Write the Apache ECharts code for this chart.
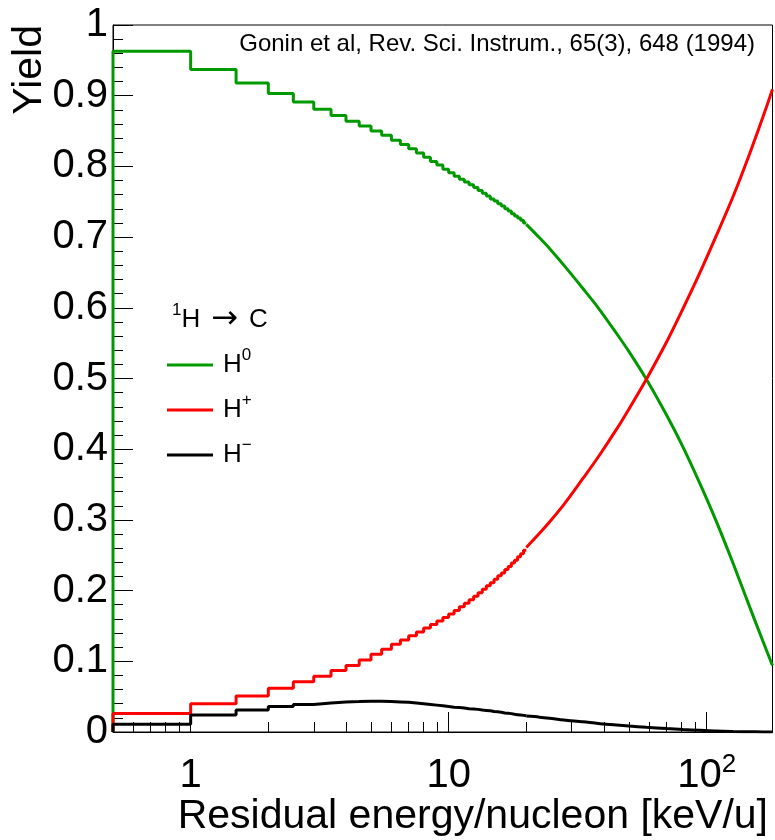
<!DOCTYPE html>
<html><head><meta charset="utf-8">
<script src="https://cdn.jsdelivr.net/npm/echarts@6/dist/echarts.min.js"></script>
<style>html,body{margin:0;padding:0;background:#fff}#c{width:775px;height:840px}</style>
</head><body><div id="c"></div>
<script>
// Histogram bins (low edges, keV/u), bin width 0.5
const binLow = [0.5,1,1.5,2,2.5,3,3.5,4,4.5,5,5.5,6,6.5,7,7.5,8,8.5,9,9.5,10,10.5,11,11.5,12,12.5,13,13.5,14,14.5,15,15.5,16,16.5,17,17.5,18,18.5,19,19.5];
const binWidth = 0.5;
const h0Bins = [0.963,0.937,0.918,0.903,0.891,0.881,0.872,0.864,0.857,0.850,
  0.844,0.837,0.831,0.825,0.819,0.813,0.807,0.802,0.796,0.791,
  0.786,0.782,0.778,0.774,0.770,0.766,0.762,0.758,0.754,0.751,
  0.747,0.744,0.740,0.737,0.733,0.730,0.727,0.724,0.720];
const hPlusBins = [0.026,0.040,0.051,0.062,0.071,0.079,0.087,0.094,0.102,0.110,
  0.117,0.124,0.130,0.136,0.1415,0.147,0.152,0.157,0.162,0.167,
  0.172,0.177,0.182,0.187,0.192,0.197,0.202,0.207,0.211,0.216,
  0.221,0.225,0.230,0.234,0.239,0.243,0.248,0.252,0.257];
const hMinusBins = [0.011,0.024,0.031,0.036,0.039,0.041,0.0425,0.043,0.0435,0.0435,
  0.043,0.0425,0.042,0.041,0.040,0.039,0.038,0.037,0.036,0.035,
  0.0345,0.034,0.033,0.0325,0.032,0.031,0.0305,0.030,0.029,0.0285,
  0.028,0.027,0.0265,0.026,0.025,0.0245,0.024,0.0235,0.023];
// High-energy part (fine bins look continuous)
const tailEnergy = [20,22.5,24.6,28,33.2,38,44.7,50,58.4,70,81,94,109,126.5,146.8,165,180];
const h0Tail = [0.718,0.699,0.684,0.660,0.627,0.600,0.564,0.538,0.499,0.448,0.403,0.352,0.298,0.239,0.177,0.129,0.094];
const hPlusTail = [0.261,0.281,0.297,0.322,0.359,0.389,0.428,0.457,0.499,0.552,0.599,0.649,0.702,0.757,0.818,0.869,0.909];
const hMinusTail = [0.0225,0.021,0.0195,0.017,0.0145,0.012,0.010,0.0085,0.0066,0.0048,0.0035,0.0024,0.0013,0.0007,0.0003,0.0001,0];

const seriesNames = ['H0','H+','H-'];
const seriesLabels = ['{b|H}{s|0}','{b|H}{s|+}','{b|H}{s|\u2212}'];
const seriesColors = ['#009900','#ff0000','#000000'];

const xMajorTicks = [1,10,100];
const xMajorLabels = ['{n|1}','{n|10}','{n|10}{p|2}'];
const xMinorTicks = [0.6,0.7,0.8,0.9,2,3,4,5,6,7,8,9,20,30,40,50,60,70,80,90];

const FONT = 'Liberation Sans, Arial, sans-serif';

function stairs(vals){
  const pts = [[binLow[0], 0]];
  vals.forEach((v,i)=>{ pts.push([binLow[i], v]); pts.push([binLow[i]+binWidth, v]); });
  return pts;
}
function tail(vals){ return tailEnergy.map((e,i)=>[e, vals[i]]); }

const binSets = [h0Bins, hPlusBins, hMinusBins];
const tailSets = [h0Tail, hPlusTail, hMinusTail];
const series = [];
seriesNames.forEach((n,k)=>{
  series.push({name:n, type:'line', xAxisIndex:0, data:stairs(binSets[k]), symbol:'none', color:seriesColors[k],
    lineStyle:{width:3, color:seriesColors[k]}, animation:false, clip:true});
  series.push({name:n, type:'line', xAxisIndex:0, data:tail(tailSets[k]), symbol:'none', smooth:0.3, color:seriesColors[k],
    lineStyle:{width:3, color:seriesColors[k]}, animation:false, clip:true});
});

const chart = echarts.init(document.getElementById('c'), null, {renderer:'canvas'});
chart.setOption({
  backgroundColor:'#fff',
  animation:false,
  grid:{left:113, top:25, width:659.5, height:707, show:true, borderColor:'#000', borderWidth:1, backgroundColor:'transparent'},
  xAxis:[{
    type:'log', logBase:10, min:0.5, max:180, position:'bottom',
    axisLine:{show:true, lineStyle:{color:'#000', width:1}},
    axisTick:{show:true, inside:true, length:20, customValues:xMajorTicks, lineStyle:{color:'#000'}},
    axisLabel:{show:true, margin:20, customValues:xMajorTicks,
      formatter:(v)=>{ let i = xMajorTicks.findIndex(t=>Math.abs(t-v)/t<1e-6); return i>=0 ? xMajorLabels[i] : ''; },
      rich:{ n:{fontFamily:FONT, fontSize:40, color:'#000', lineHeight:44, verticalAlign:'bottom'},
             p:{fontFamily:FONT, fontSize:26, color:'#000', verticalAlign:'top'} }},
    splitLine:{show:false}, minorTick:{show:false}, minorSplitLine:{show:false}
  },{
    type:'log', logBase:10, min:0.5, max:180, position:'bottom', gridIndex:0,
    axisLine:{show:false},
    axisTick:{show:true, inside:true, length:10, customValues:xMinorTicks, lineStyle:{color:'#000'}},
    axisLabel:{show:false}, splitLine:{show:false}
  }],
  yAxis:{
    type:'value', min:0, max:1, interval:0.1,
    axisLine:{show:true, lineStyle:{color:'#000', width:1}},
    axisTick:{show:true, inside:true, length:20, lineStyle:{color:'#000'}},
    minorTick:{show:true, splitNumber:5, length:10, lineStyle:{color:'#000'}},
    axisLabel:{margin:5, fontFamily:FONT, fontSize:40, color:'#000'},
    splitLine:{show:false}
  },
  legend:{
    left:167, top:347, padding:0, orient:'vertical', itemWidth:46, itemHeight:3, itemGap:9, icon:'rect',
    data:seriesNames, selectedMode:false,
    formatter:(n)=>seriesLabels[seriesNames.indexOf(n)],
    textStyle:{fontFamily:FONT, fontSize:26, color:'#000', lineHeight:36,
      rich:{ b:{fontFamily:FONT, fontSize:26, color:'#000', lineHeight:36, padding:[0,0,0,5]},
             s:{fontFamily:FONT, fontSize:17, color:'#000', verticalAlign:'top'} }}
  },
  graphic:[
    {type:'text', x:30, y:25, rotation:Math.PI/2, style:{text:'Yield', font:'41px '+FONT, fill:'#000', align:'right', verticalAlign:'middle'}},
    {type:'text', x:768, y:817, style:{text:'Residual energy/nucleon [keV/u]', font:'41px '+FONT, fill:'#000', align:'right', verticalAlign:'middle'}},
    {type:'text', x:755, y:44, style:{text:'Gonin et al, Rev. Sci. Instrum., 65(3), 648 (1994)', font:'24px '+FONT, fill:'#000', align:'right', verticalAlign:'middle'}},
    {type:'text', x:172, y:320, style:{text:'{s|1}{b|H}{a|\u2192}{b|C}', align:'left', verticalAlign:'middle',
      rich:{ b:{fontFamily:FONT, fontSize:26, fill:'#000', lineHeight:36},
             a:{fontFamily:'DejaVu Sans', fontSize:32, fill:'#000', lineHeight:36, padding:[0,11,0,11]},
             s:{fontFamily:FONT, fontSize:17, fill:'#000', verticalAlign:'top'} }}}
  ],
  series: series
});
</script></body></html>
